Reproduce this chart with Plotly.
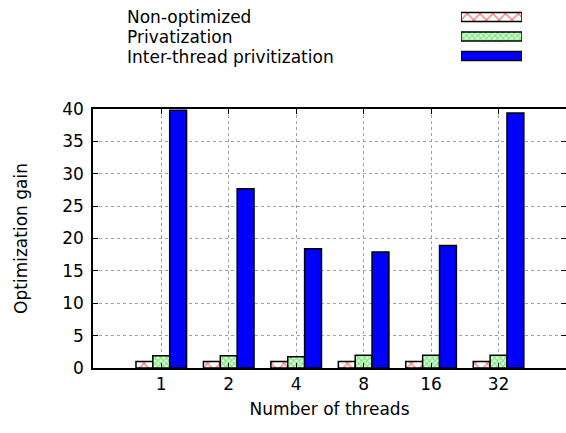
import plotly.graph_objects as go

threads = ["1", "2", "4", "8", "16", "32"]
series_names = ["Non-optimized", "Privatization", "Inter-thread privitization"]
non_optimized = [1.0, 1.0, 1.0, 1.0, 1.0, 1.0]
privatization = [1.9, 1.9, 1.75, 1.95, 1.95, 1.95]
inter_thread = [39.8, 27.7, 18.4, 17.9, 18.9, 39.4]
y_ticks = [0, 5, 10, 15, 20, 25, 30, 35, 40]

values = [non_optimized, privatization, inter_thread]
fills = [
    dict(marker_color="white", pattern=dict(shape="x", fgcolor="#ff0000", bgcolor="white", size=9, solidity=0.3)),
    dict(marker_color="white", pattern=dict(shape="x", fgcolor="#00dd00", bgcolor="white", size=4, solidity=0.65)),
    dict(marker_color="#0000ff", pattern=None),
]
offsets = [-0.375, -0.125, 0.125]
BW = 0.25

W, H = 566, 433
ML, MR, MT, MB = 93, 0, 5, 65
ph = H - MT - MB
def py(ypix):
    return (H - MB - ypix) / ph

fig = go.Figure()
xs = list(range(len(threads)))
for i, name in enumerate(series_names):
    f = fills[i]
    mk = dict(color=f["marker_color"], line=dict(color="black", width=1.5))
    if f["pattern"]:
        mk["pattern"] = f["pattern"]
    fig.add_trace(go.Bar(x=xs, y=values[i], name=name, width=BW, offset=offsets[i],
                         marker=mk, showlegend=False, xaxis="x", yaxis="y"))
    # legend key on its own small axes
    fig.add_trace(go.Bar(x=[1], y=[name], orientation="h", width=0.46, offset=-0.23,
                         marker=mk, showlegend=False, xaxis="x2", yaxis="y2",
                         hoverinfo="skip"))

font = dict(family="DejaVu Sans, sans-serif", size=17, color="black")

# legend texts
for i, name in enumerate(series_names):
    fig.add_annotation(text=name, x=(125 - ML) / (W - ML - MR), xref="paper",
                       y=py([17.5, 37, 56.5][i]), yref="paper", xanchor="left",
                       yanchor="middle", showarrow=False, font=font)

fig.update_layout(
    width=W, height=H,
    margin=dict(l=ML, r=MR, t=MT, b=MB, autoexpand=False),
    paper_bgcolor="white", plot_bgcolor="white",
    barmode="overlay",
    font=font,
    xaxis=dict(
        tickmode="array", tickvals=xs, ticktext=threads,
        range=[-1.012, 6.0],
        showgrid=True, gridcolor="#a0a0a0", griddash="dot", gridwidth=1,
        showline=True, linecolor="black", linewidth=1.5, mirror="ticks",
        ticks="inside", ticklen=5, tickcolor="black",
        title=dict(text="Number of threads", standoff=10, font=font),
        zeroline=False, domain=[0, 1], automargin=False,
    ),
    yaxis=dict(
        tickmode="array", tickvals=y_ticks, range=[0, 40],
        showgrid=True, gridcolor="#a0a0a0", griddash="dot", gridwidth=1,
        showline=True, linecolor="black", linewidth=1.5, mirror=False,
        ticks="inside", ticklen=5, tickcolor="black", ticklabelstandoff=4,
        title=dict(text="Optimization gain", standoff=30, font=font),
        zeroline=False, domain=[0, py(109)], automargin=False,
    ),
    yaxis3=dict(
        overlaying="y", side="right", anchor="x", range=[0, 40],
        tickmode="array", tickvals=y_ticks, ticks="inside", ticklen=5,
        tickcolor="black", showticklabels=False, showgrid=False,
        showline=False, zeroline=False, automargin=False,
    ),
    xaxis2=dict(domain=[(461 - ML) / (W - ML - MR), (522 - ML) / (W - ML - MR)],
                range=[0, 1], visible=False, anchor="y2"),
    yaxis2=dict(domain=[py(65.75), py(7.25)], visible=False, anchor="x2",
                categoryorder="array", categoryarray=series_names[::-1]),
)

# invisible trace so the right-hand tick axis is drawn
fig.add_trace(go.Scatter(x=[0], y=[0], xaxis="x", yaxis="y3", mode="markers",
                         marker=dict(opacity=0), showlegend=False, hoverinfo="skip"))

fig.write_html("out.html")
